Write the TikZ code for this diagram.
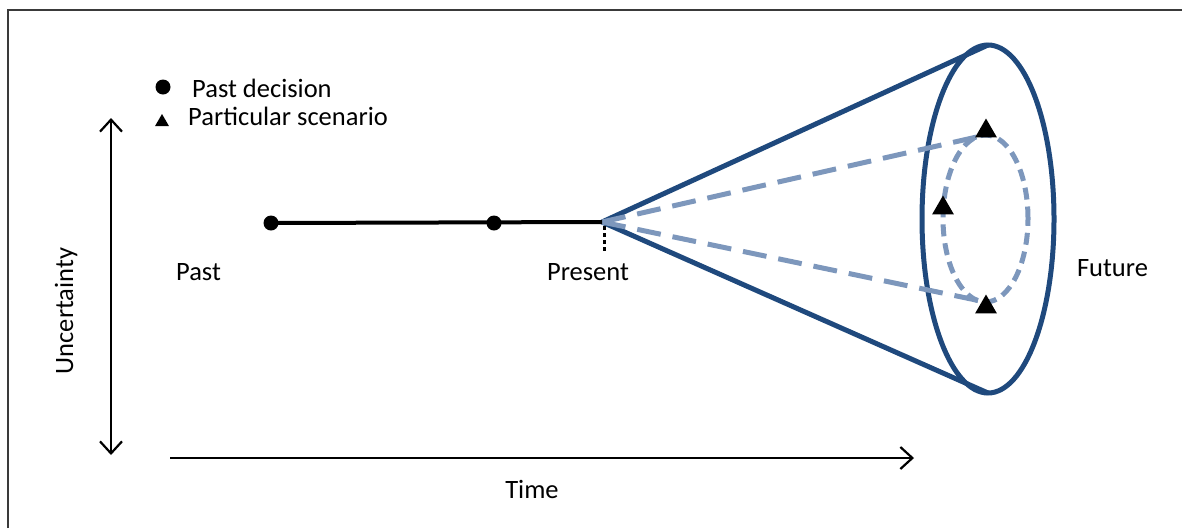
\documentclass[tikz,border=0pt]{standalone}
\usepackage{fontspec}
\setmainfont{Carlito}
\usetikzlibrary{arrows.meta,shapes.geometric}
\definecolor{conebl}{HTML}{1F497D}
\definecolor{scenbl}{HTML}{7D97BC}
\definecolor{framegr}{HTML}{3A3A3A}
\begin{document}
\begin{tikzpicture}[x=1pt,y=-1pt,
  lbl/.style={font=\fontsize{26.5}{30}\selectfont, inner sep=0pt},
  decision/.style={circle, fill=black, minimum size=15pt, inner sep=0pt},
  scen/.style={regular polygon, regular polygon sides=3, fill=black,
               minimum size=25pt, inner sep=0pt},
  barb/.tip={Straight Barb[length=12pt,width=22pt]},
  axisline/.style={line width=2.2pt},
  conepart/.style={draw=conebl, line width=5pt},
  scenpart/.style={draw=scenbl, line width=5pt},
]
\useasboundingbox (0,0) rectangle (1182,528);

% frame (top and left edges only)
\draw[framegr, line width=1.5pt] (8,528) -- (8,10) -- (1182,10);

% legend
\node[decision] (legdot) at (163,87) {};
\node[lbl, anchor=base west] (legdottxt) at (192,97) {Past decision};
\node[scen, minimum size=16pt] (legtri) at (162,122) {};
\node[lbl, anchor=base west] (legtritxt) at (188,125) {Particular scenario};

% axes
\coordinate (u0) at (111,118);
\coordinate (u1) at (111,455);
\draw[axisline, barb-barb] (u0) -- (u1);
\node[lbl, rotate=90, anchor=base] (unc) at (73,311) {Uncertainty};

\coordinate (t0) at (170,458);
\coordinate (t1) at (914,458);
\draw[axisline, -barb] (t0) -- (t1);
\node[lbl, anchor=base] (time) at (532,498) {Time};

% future cone
\coordinate (now) at (602,222);
\node[ellipse, conepart, minimum width=132pt, minimum height=348pt,
      inner sep=0pt, outer sep=0pt] (outer) at (988,219) {};
\draw[conepart, line join=round] (outer.north) -- (now) -- (outer.south);

\node[ellipse, scenpart, dash pattern=on 12pt off 7pt, minimum width=85pt,
      minimum height=167pt, inner sep=0pt, outer sep=0pt] (inner) at (985.5,218.5) {};
\draw[scenpart, dash pattern=on 24pt off 12pt] (now) -- (inner.north);
\draw[scenpart, dash pattern=on 24pt off 12pt] (now) -- (inner.south);

% scenarios
\node[scen] (s1) at (986,131) {};
\node[scen] (s2) at (943,208) {};
\node[scen] (s3) at (986,307) {};

% timeline of past decisions
\node[decision] (d1) at (271,223) {};
\node[decision] (d2) at (494,223) {};
\draw[line width=4pt] (d1.center) -- (now);
\coordinate (nowtick) at (604.5,254);
\draw[line width=3.5pt, dash pattern=on 3.5pt off 3.5pt] ([xshift=2.5pt,yshift=-4pt]now) -- (nowtick);

% labels
\node[lbl, anchor=base] (past) at (198.5,280) {Past};
\node[lbl, anchor=base] (present) at (588,280) {Present};
\node[lbl, anchor=base] (future) at (1112.5,276) {Future};
\end{tikzpicture}
\end{document}
